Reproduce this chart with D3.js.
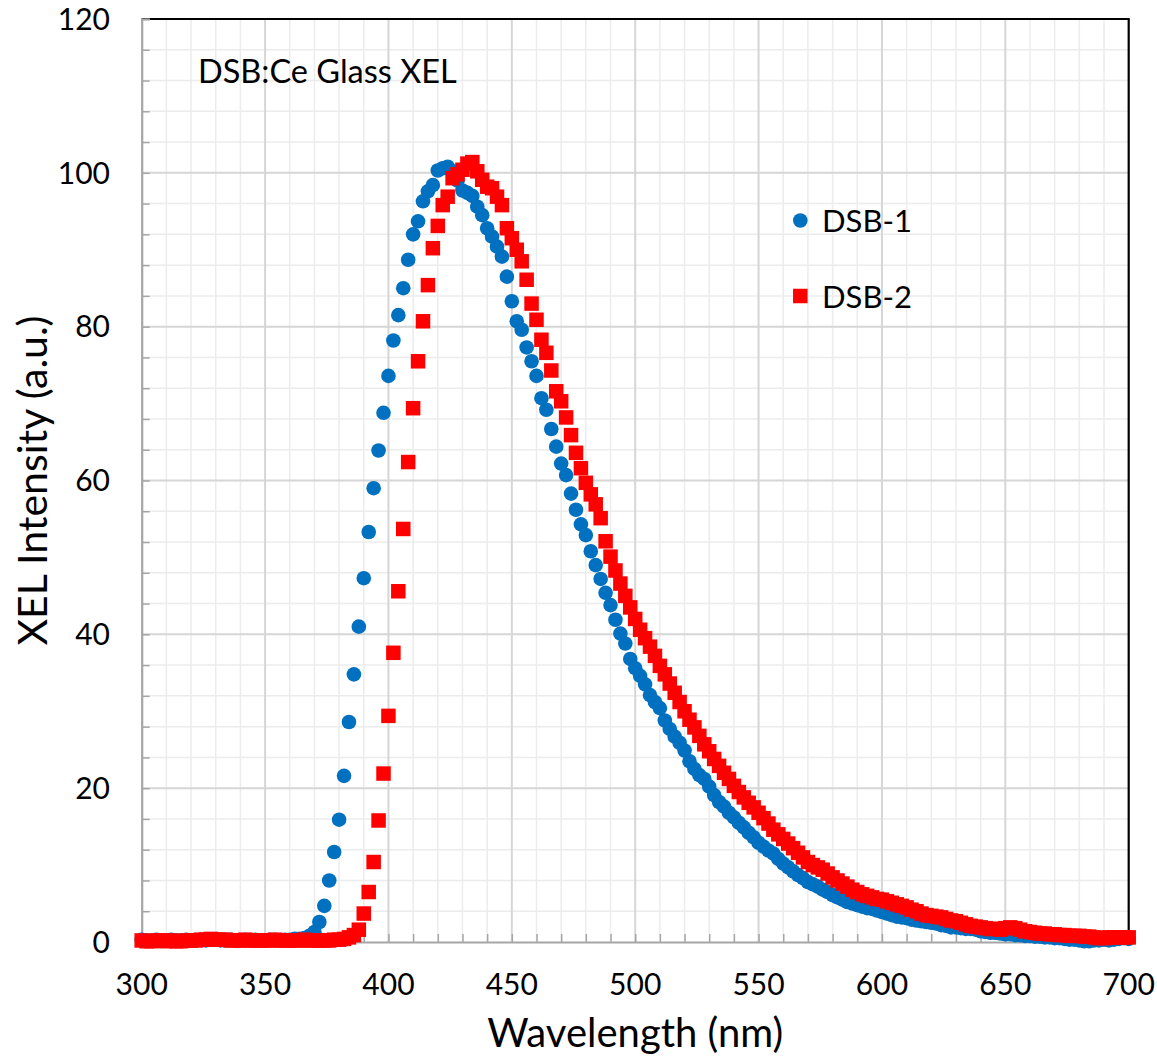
<!DOCTYPE html>
<html>
<head>
<meta charset="utf-8">
<script src="https://cdn.jsdelivr.net/npm/d3@7"></script>
<style>
  html, body { margin: 0; padding: 0; background: #ffffff; }
  svg { display: block; font-family: Lato, "Open Sans", sans-serif; }
</style>
</head>
<body>
<svg id="chart" width="1157" height="1059"></svg>
<script>
// Wavelength grid (nm), 2 nm steps from 300 to 700
const wavelength = d3.range(300, 701, 2);

// DSB-1 XEL intensity (a.u.), one value per wavelength, rows of 10 (300, 320, ... nm)
const dsb1 = [
  0.3, 0.2, 0.2, 0.3, 0.2, 0.2, 0.3, 0.2, 0.2, 0.3,
  0.2, 0.2, 0.3, 0.2, 0.3, 0.3, 0.2, 0.2, 0.3, 0.2,
  0.2, 0.3, 0.2, 0.3, 0.2, 0.2, 0.3, 0.3, 0.2, 0.3,
  0.3, 0.4, 0.4, 0.5, 0.8, 1.3, 2.6, 4.7, 8.0, 11.7,
  15.9, 21.6, 28.6, 34.8, 41.0, 47.3, 53.3, 59.0, 63.9, 68.8,
  73.6, 78.2, 81.5, 85.0, 88.7, 92.0, 93.7, 96.3, 97.6, 98.4,
  100.3, 100.6, 100.8, 100.2, 99.0, 97.7, 97.4, 97.0, 95.6, 94.5,
  92.8, 91.7, 90.4, 89.1, 86.5, 83.3, 80.7, 79.6, 77.3, 75.5,
  73.6, 70.7, 69.2, 66.7, 64.4, 62.2, 60.7, 58.3, 56.2, 54.3,
  52.9, 50.8, 49.0, 47.2, 45.4, 43.8, 41.9, 40.1, 38.8, 36.8,
  35.6, 34.6, 33.5, 32.1, 31.2, 30.4, 28.8, 27.7, 26.7, 25.9,
  24.9, 23.5, 22.5, 21.7, 21.2, 20.2, 19.1, 18.2, 17.6, 16.8,
  16.2, 15.5, 14.9, 14.2, 13.6, 12.9, 12.4, 11.9, 11.5, 10.8,
  10.2, 9.7, 9.2, 8.7, 8.3, 7.8, 7.5, 7.2, 6.8, 6.5,
  6.1, 5.8, 5.5, 5.2, 5.0, 4.8, 4.6, 4.4, 4.3, 4.1,
  3.9, 3.7, 3.5, 3.3, 3.2, 3.1, 2.9, 2.8, 2.7, 2.6,
  2.5, 2.4, 2.2, 2.1, 1.9, 1.9, 1.8, 1.7, 1.7, 1.6,
  1.4, 1.3, 1.2, 1.2, 1.1, 1.0, 1.0, 0.9, 0.9, 0.8,
  0.8, 0.7, 0.7, 0.6, 0.6, 0.5, 0.5, 0.4, 0.3, 0.3,
  0.2, 0.1, 0.1, 0.2, 0.2, 0.3, 0.2, 0.3, 0.4, 0.5,
  0.4
];

// DSB-2 XEL intensity (a.u.)
const dsb2 = [
  0.2, 0.1, 0.1, 0.2, 0.2, 0.1, 0.2, 0.1, 0.1, 0.2,
  0.2, 0.2, 0.3, 0.3, 0.4, 0.3, 0.3, 0.3, 0.2, 0.2,
  0.2, 0.3, 0.2, 0.2, 0.2, 0.2, 0.2, 0.3, 0.2, 0.2,
  0.2, 0.2, 0.2, 0.3, 0.2, 0.2, 0.2, 0.2, 0.2, 0.3,
  0.3, 0.4, 0.6, 0.9, 1.6, 3.7, 6.5, 10.4, 15.8, 21.9,
  29.4, 37.6, 45.6, 53.7, 62.4, 69.4, 75.5, 80.7, 85.4, 90.2,
  93.1, 95.8, 96.9, 99.3, 99.8, 100.4, 101.2, 101.4, 100.2, 99.1,
  98.2, 98.0, 96.9, 95.8, 92.8, 91.5, 90.0, 88.5, 86.1, 83.0,
  80.9, 78.3, 76.6, 74.3, 71.6, 70.3, 68.2, 65.9, 63.6, 61.6,
  59.7, 58.2, 56.9, 55.1, 52.1, 50.1, 48.3, 46.6, 45.0, 43.5,
  42.0, 40.6, 39.5, 38.4, 37.2, 35.9, 34.8, 33.6, 32.4, 31.2,
  30.0, 28.9, 27.9, 26.8, 25.7, 24.8, 23.8, 22.9, 22.0, 21.2,
  20.3, 19.5, 18.8, 18.1, 17.5, 16.8, 16.1, 15.4, 14.6, 14.0,
  13.4, 12.8, 12.2, 11.6, 11.0, 10.4, 10.0, 9.7, 9.4, 8.9,
  8.4, 8.0, 7.6, 7.2, 6.8, 6.5, 6.2, 6.0, 5.8, 5.6,
  5.5, 5.3, 5.1, 4.9, 4.7, 4.5, 4.2, 4.0, 3.7, 3.5,
  3.4, 3.3, 3.2, 3.0, 2.8, 2.7, 2.5, 2.3, 2.1, 2.0,
  1.9, 1.8, 1.7, 1.7, 1.6, 1.8, 1.9, 1.8, 1.6, 1.4,
  1.3, 1.2, 1.1, 1.1, 1.0, 1.0, 0.9, 0.9, 0.8, 0.8,
  0.8, 0.7, 0.7, 0.6, 0.5, 0.5, 0.6, 0.6, 0.6, 0.6,
  0.6
];

const seriesNames = ["DSB-1", "DSB-2"];
const xTickLabels = [300, 350, 400, 450, 500, 550, 600, 650, 700];
const yTickLabels = [0, 20, 40, 60, 80, 100, 120];

const svg = d3.select("#chart");
const plotLeft = 141.7, plotRight = 1128.7, plotTop = 19, plotBottom = 942;

const x = d3.scaleLinear().domain([300, 700]).range([plotLeft, plotRight]);
const y = d3.scaleLinear().domain([0, 120]).range([plotBottom, plotTop]);

// Grid: light minor lines, darker major lines
const grid = svg.append("g");
const xMinor = d3.range(310, 700, 10).filter(v => v % 50 !== 0);
const yMinor = d3.range(4, 120, 4).filter(v => v % 20 !== 0);
grid.selectAll(".vmin").data(xMinor).join("line")
  .attr("x1", d => x(d)).attr("x2", d => x(d)).attr("y1", plotTop).attr("y2", plotBottom)
  .attr("stroke", "#ececec").attr("stroke-width", 1.5);
grid.selectAll(".hmin").data(yMinor).join("line")
  .attr("x1", plotLeft).attr("x2", plotRight).attr("y1", d => y(d)).attr("y2", d => y(d))
  .attr("stroke", "#ececec").attr("stroke-width", 1.5);
grid.selectAll(".vmaj").data(xTickLabels.slice(1, -1)).join("line")
  .attr("x1", d => x(d)).attr("x2", d => x(d)).attr("y1", plotTop).attr("y2", plotBottom)
  .attr("stroke", "#d6d6d6").attr("stroke-width", 2);
grid.selectAll(".hmaj").data(yTickLabels.slice(1, -1)).join("line")
  .attr("x1", plotLeft).attr("x2", plotRight).attr("y1", d => y(d)).attr("y2", d => y(d))
  .attr("stroke", "#d6d6d6").attr("stroke-width", 2);

// Frame: black top and right edges
svg.append("line").attr("x1", plotLeft).attr("x2", plotRight + 1).attr("y1", plotTop).attr("y2", plotTop)
  .attr("stroke", "#000").attr("stroke-width", 2.2);
svg.append("line").attr("x1", plotRight).attr("x2", plotRight).attr("y1", plotTop).attr("y2", plotBottom)
  .attr("stroke", "#000").attr("stroke-width", 2.2);

// Axes with inward ticks
const xAxis = svg.append("g").attr("transform", `translate(0,${plotBottom})`)
  .call(d3.axisBottom(x).tickValues(d3.range(300, 701, 10)).tickSize(-8).tickFormat(""));
const yAxis = svg.append("g").attr("transform", `translate(${plotLeft},0)`)
  .call(d3.axisLeft(y).tickValues(d3.range(0, 121, 4)).tickSize(-8).tickFormat(""));
[xAxis, yAxis].forEach(g => {
  g.select(".domain").attr("stroke", "#a6a6a6").attr("stroke-width", 2.2);
  g.selectAll(".tick line").attr("stroke", "#a6a6a6").attr("stroke-width", 1.5);
});

// Tick labels
svg.append("g").selectAll("text").data(xTickLabels).join("text")
  .attr("x", d => x(d)).attr("y", 995)
  .attr("text-anchor", "middle").attr("font-size", 30).attr("fill", "#000")
  .text(d => d);
svg.append("g").selectAll("text").data(yTickLabels).join("text")
  .attr("x", 110).attr("y", d => y(d) + 10.8)
  .attr("text-anchor", "end").attr("font-size", 30).attr("fill", "#000")
  .text(d => d);

// Axis titles
svg.append("text").attr("x", (plotLeft + plotRight) / 2).attr("y", 1047)
  .attr("text-anchor", "middle").attr("font-size", 40).attr("fill", "#000")
  .text("Wavelength (nm)");
svg.append("text").attr("transform", `translate(47,${(plotTop + plotBottom) / 2}) rotate(-90)`)
  .attr("text-anchor", "middle").attr("font-size", 41).attr("fill", "#000")
  .text("XEL Intensity (a.u.)");

// In-plot title
svg.append("text").attr("x", 198).attr("y", 83)
  .attr("font-size", 32.5).attr("fill", "#000")
  .text("DSB:Ce Glass XEL");

// Markers
const pts1 = wavelength.map((w, i) => ({ w, v: dsb1[i] }));
const pts2 = wavelength.map((w, i) => ({ w, v: dsb2[i] }));
const r = 7.3, s = 14.5;

svg.append("g").selectAll("circle").data(pts1).join("circle")
  .attr("cx", d => x(d.w)).attr("cy", d => y(d.v)).attr("r", r)
  .attr("fill", "#0070C0");
svg.append("g").selectAll("rect").data(pts2).join("rect")
  .attr("x", d => x(d.w) - s / 2).attr("y", d => y(d.v) - s / 2)
  .attr("width", s).attr("height", s).attr("fill", "#FF0000");

// Legend
const legend = svg.append("g");
legend.append("circle").attr("cx", 800.3).attr("cy", 220.5).attr("r", r).attr("fill", "#0070C0");
legend.append("rect").attr("x", 800.3 - s / 2).attr("y", 296 - s / 2)
  .attr("width", s).attr("height", s).attr("fill", "#FF0000");
legend.selectAll("text").data(seriesNames).join("text")
  .attr("x", 822).attr("y", (d, i) => i === 0 ? 231.5 : 307.5)
  .attr("font-size", 31).attr("fill", "#000")
  .text(d => d);
</script>
</body>
</html>
